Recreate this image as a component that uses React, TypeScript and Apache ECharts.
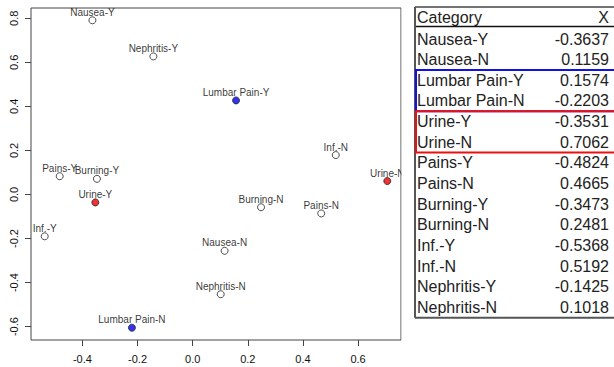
import React, { useEffect, useRef } from "react";
import * as echarts from "echarts";

const categories = [
  "Nausea-Y", "Nausea-N", "Lumbar Pain-Y", "Lumbar Pain-N", "Urine-Y", "Urine-N",
  "Pains-Y", "Pains-N", "Burning-Y", "Burning-N", "Inf.-Y", "Inf.-N",
  "Nephritis-Y", "Nephritis-N",
];
const xValues = [
  -0.3637, 0.1159, 0.1574, -0.2203, -0.3531, 0.7062,
  -0.4824, 0.4665, -0.3473, 0.2481, -0.5368, 0.5192,
  -0.1425, 0.1018,
];
const yValues = [
  0.791, -0.256, 0.427, -0.605, -0.036, 0.061,
  0.083, -0.086, 0.071, -0.058, -0.19, 0.179,
  0.627, -0.453,
];
const xValueLabels = [
  "-0.3637", "0.1159", "0.1574", "-0.2203", "-0.3531", "0.7062",
  "-0.4824", "0.4665", "-0.3473", "0.2481", "-0.5368", "0.5192",
  "-0.1425", "0.1018",
];
const blueGroup = ["Lumbar Pain-Y", "Lumbar Pain-N"];
const redGroup = ["Urine-Y", "Urine-N"];
const xTicks = [-0.4, -0.2, 0.0, 0.2, 0.4, 0.6];
const yTicks = [-0.6, -0.4, -0.2, 0.0, 0.2, 0.4, 0.6, 0.8];
const tableHeader = ["Category", "X"];

export default function App() {
  const ref = useRef<HTMLDivElement>(null);
  useEffect(() => {
    if (!ref.current) return;
    const chart = echarts.init(ref.current, null, { renderer: "svg" });

    const data = categories.map((c, i) => {
      let fill = "#ffffff";
      if (blueGroup.includes(c)) fill = "#0000ee";
      if (redGroup.includes(c)) fill = "#ee0000";
      return {
        name: c,
        value: [xValues[i], yValues[i]],
        itemStyle: { color: fill, borderColor: "#222", borderWidth: 1 },
      };
    });

    const xMin = Math.min(...xValues), xMax = Math.max(...xValues);
    const yMin = Math.min(...yValues), yMax = Math.max(...yValues);
    const xPad = (xMax - xMin) * 0.04, yPad = (yMax - yMin) * 0.04;

    const font = "'Liberation Sans', Arial, Helvetica, sans-serif";
    const tblLeft = 415;
    const tblTop = 7;
    const headerLine = 26.5;
    const rowTop = 28.7;
    const rowH = 20.64;
    const tblBottom = rowTop + rowH * categories.length;
    const textColor = "#222";

    const graphics: any[] = [];
    graphics.push({ type: "rect", z: 100, shape: { x: 401.5, y: 0, width: 13, height: 367 }, style: { fill: "#fff" } });
    graphics.push({
      type: "text", z: 101, x: tblLeft + 2, y: (tblTop + headerLine) / 2 + 0.5,
      style: { text: tableHeader[0], font: `16px ${font}`, fill: textColor, textVerticalAlign: "middle", textAlign: "left" },
    });
    graphics.push({
      type: "text", z: 101, x: 609, y: (tblTop + headerLine) / 2 + 0.5,
      style: { text: tableHeader[1], font: `16px ${font}`, fill: textColor, textVerticalAlign: "middle", textAlign: "right" },
    });
    categories.forEach((c, i) => {
      const cy = rowTop + rowH * i + rowH / 2;
      graphics.push({
        type: "text", z: 101, x: tblLeft + 2, y: cy,
        style: { text: c, font: `16px ${font}`, fill: textColor, textVerticalAlign: "middle", textAlign: "left" },
      });
      graphics.push({
        type: "text", z: 101, x: 609, y: cy,
        style: { text: xValueLabels[i], font: `16px ${font}`, fill: textColor, textVerticalAlign: "middle", textAlign: "right" },
      });
    });
    graphics.push({ type: "line", z: 102, shape: { x1: tblLeft, y1: tblTop, x2: 614, y2: tblTop }, style: { stroke: "#444", lineWidth: 1.5 } });
    graphics.push({ type: "line", z: 102, shape: { x1: tblLeft, y1: headerLine, x2: 614, y2: headerLine }, style: { stroke: "#111", lineWidth: 1.5 } });
    graphics.push({ type: "line", z: 102, shape: { x1: tblLeft, y1: tblTop, x2: tblLeft, y2: tblBottom }, style: { stroke: "#555", lineWidth: 2 } });
    graphics.push({ type: "line", z: 102, shape: { x1: tblLeft, y1: tblBottom, x2: 614, y2: tblBottom }, style: { stroke: "#555", lineWidth: 2 } });
    const boxFor = (group: string[], color: string) => {
      const idx = group.map((g) => categories.indexOf(g));
      const first = Math.min(...idx), last = Math.max(...idx);
      graphics.push({
        type: "rect", z: 103,
        shape: { x: tblLeft + 1, y: rowTop + rowH * first, width: 614 - tblLeft, height: rowH * (last - first + 1) },
        style: { fill: "none", stroke: color, lineWidth: 2 },
      });
    };
    boxFor(blueGroup, "#1010ee");
    boxFor(redGroup, "#ee1010");

    chart.setOption({
      animation: false,
      backgroundColor: "#ffffff",
      grid: {
        left: 31, right: 213, top: 8, bottom: 27,
        show: true, borderColor: "#444", borderWidth: 1, backgroundColor: "transparent",
      },
      xAxis: {
        type: "value",
        min: xMin - xPad, max: xMax + xPad,
        splitLine: { show: false },
        axisLine: { show: false, onZero: false },
        axisTick: { show: true, inside: false, length: 6, customValues: xTicks, lineStyle: { color: "#444" } },
        axisLabel: {
          customValues: xTicks, margin: 13, fontSize: 11, color: "#111", fontFamily: font,
          formatter: (v: number) => v.toFixed(1),
        },
      },
      yAxis: {
        type: "value",
        min: yMin - yPad, max: yMax + yPad,
        splitLine: { show: false },
        axisLine: { show: false, onZero: false },
        axisTick: { show: true, inside: false, length: 6, customValues: yTicks, lineStyle: { color: "#444" } },
        axisLabel: {
          customValues: yTicks, margin: 12, fontSize: 11, color: "#111", fontFamily: font, rotate: 90,
          formatter: (v: number) => v.toFixed(1),
        },
      },
      series: [
        {
          type: "scatter",
          symbol: "circle",
          symbolSize: 7,
          data,
          label: {
            show: true, position: "top", distance: -1, formatter: "{b}",
            fontSize: 10, color: "#000", fontFamily: font,
          },
          labelLayout: { hideOverlap: false },
        },
      ],
      graphic: graphics,
    });
    return () => chart.dispose();
  }, []);
  return <div ref={ref} style={{ position: "fixed", left: 0, top: 0, width: 614, height: 367 }} />;
}
